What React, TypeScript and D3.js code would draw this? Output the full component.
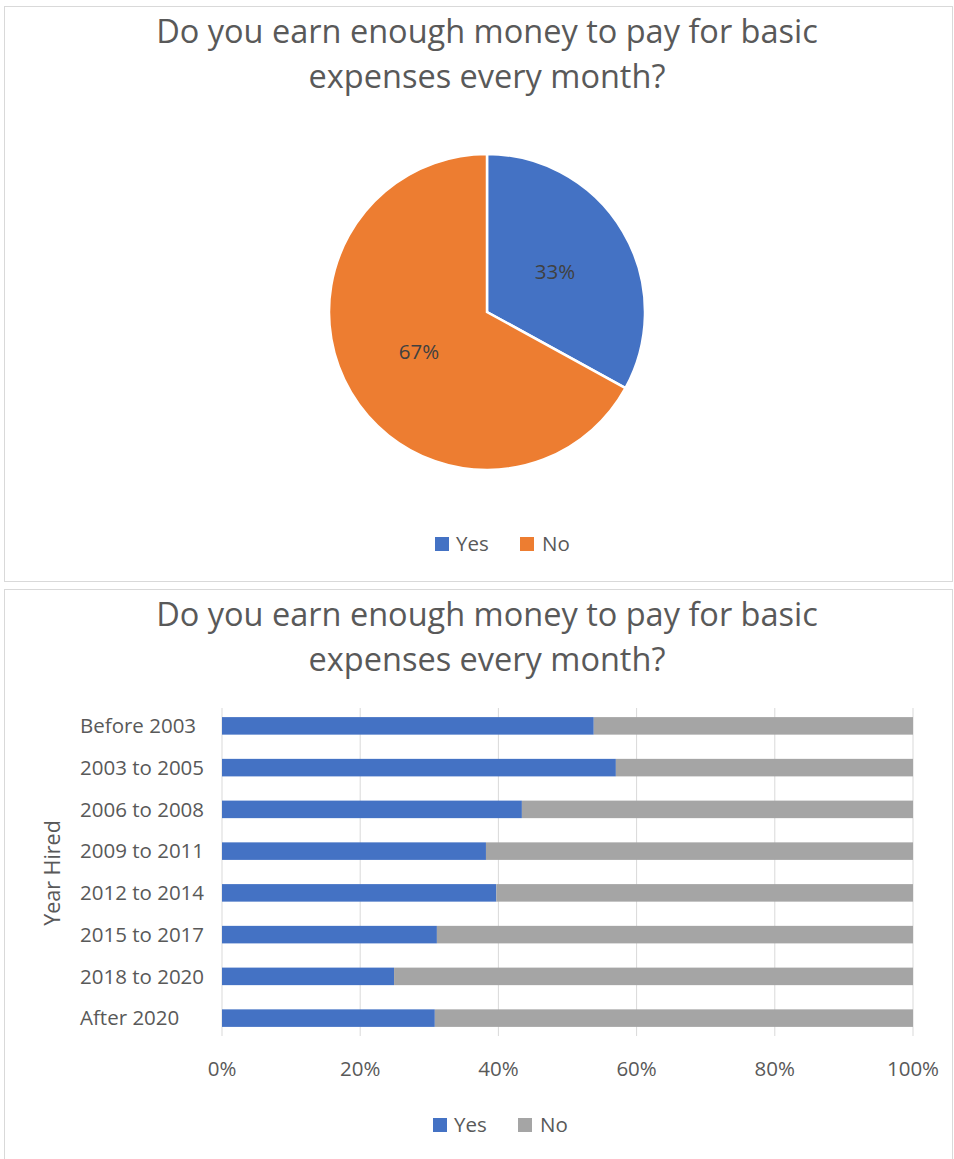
import * as d3 from 'd3';

const W = 954;
const H = 1159;

// pie data
const pieLabels = ['Yes', 'No'];
const pieValues = [33, 67];
const pieColors = ['#4472C4', '#ED7D31'];

// bar data
const years = [
  'Before 2003',
  '2003 to 2005',
  '2006 to 2008',
  '2009 to 2011',
  '2012 to 2014',
  '2015 to 2017',
  '2018 to 2020',
  'After 2020',
];
const yesShare = [53.8, 57.0, 43.4, 38.2, 39.7, 31.1, 24.9, 30.8];
const barColors = ['#4472C4', '#A5A5A5'];
const xTicks = [0, 20, 40, 60, 80, 100];

const titleLines = ['Do you earn enough money to pay for basic', 'expenses every month?'];
const font = "'Open Sans', sans-serif";
const fs = 20.5;

const Legend = ({ x, y, colors }: { x: number; y: number; colors: string[] }) => (
  <g transform={`translate(${x}, ${y})`}>
    <rect x={0} y={-7} width={14} height={14} fill={colors[0]} />
    <text x={21} y={0} dy="0.35em" fontSize={fs} fill="#595959">{pieLabels[0]}</text>
    <rect x={85} y={-7} width={14} height={14} fill={colors[1]} />
    <text x={107} y={0} dy="0.35em" fontSize={fs} fill="#595959">{pieLabels[1]}</text>
  </g>
);

const Title = ({ y }: { y: number }) => (
  <g>
    {titleLines.map((t, i) => (
      <text key={i} x={487} y={y + i * 45} textAnchor="middle" fontSize={32.5} fill="#595959">
        {t}
      </text>
    ))}
  </g>
);

const PieChart = () => {
  const cx = 487;
  const cy = 312;
  const r = 158;
  const arcs = d3.pie<number>().sort(null)(pieValues);
  const arc = d3.arc<d3.PieArcDatum<number>>().innerRadius(0).outerRadius(r);
  const labelArc = d3.arc<d3.PieArcDatum<number>>().innerRadius(r * 0.5).outerRadius(r * 0.5);
  return (
    <g>
      <rect x={4.5} y={6.5} width={948} height={575} fill="#fff" stroke="#d9d9d9" />
      <Title y={43} />
      <g transform={`translate(${cx}, ${cy})`}>
        {arcs.map((a, i) => (
          <path key={i} d={arc(a) || ''} fill={pieColors[i]} stroke="#fff" strokeWidth={2.5} />
        ))}
        {arcs.map((a, i) => {
          const [lx, ly] = labelArc.centroid(a);
          return (
            <text key={i} x={lx} y={ly} dy="0.35em" textAnchor="middle" fontSize={fs} fill="#404040">
              {pieValues[i]}%
            </text>
          );
        })}
      </g>
      <Legend x={435} y={544} colors={pieColors} />
    </g>
  );
};

const BarChart = () => {
  const x = d3.scaleLinear().domain([0, 100]).range([222, 913]);
  const y = d3.scaleBand().domain(years).range([705, 1039]).paddingInner(0.58).paddingOuter(0.29);
  return (
    <g>
      <rect x={4.5} y={589.5} width={948} height={572} fill="#fff" stroke="#d9d9d9" />
      <Title y={626} />
      {xTicks.map((t) => (
        <g key={t}>
          <line x1={x(t)} x2={x(t)} y1={708} y2={1036} stroke="#d9d9d9" strokeWidth={1} />
          <text x={x(t)} y={1069} dy="0.35em" textAnchor="middle" fontSize={fs} fill="#595959">
            {t}%
          </text>
        </g>
      ))}
      {years.map((yr, i) => (
        <g key={yr}>
          <rect x={x(0)} y={y(yr)} width={x(yesShare[i]) - x(0)} height={y.bandwidth()} fill={barColors[0]} />
          <rect
            x={x(yesShare[i])}
            y={y(yr)}
            width={x(100) - x(yesShare[i])}
            height={y.bandwidth()}
            fill={barColors[1]}
          />
          <text x={80} y={(y(yr) || 0) + y.bandwidth() / 2} dy="0.35em" fontSize={fs} fill="#595959">
            {yr}
          </text>
        </g>
      ))}
      <text
        transform="translate(52, 873) rotate(-90)"
        textAnchor="middle"
        dy="0.35em"
        fontSize={21.5}
        fill="#595959"
      >
        Year Hired
      </text>
      <Legend x={433} y={1125} colors={barColors} />
    </g>
  );
};

export default function App() {
  return (
    <svg
      width={W}
      height={H}
      viewBox={`0 0 ${W} ${H}`}
      style={{ position: 'absolute', left: 0, top: 0, fontFamily: font }}
    >
      <rect width={W} height={H} fill="#fff" />
      <PieChart />
      <BarChart />
    </svg>
  );
}
